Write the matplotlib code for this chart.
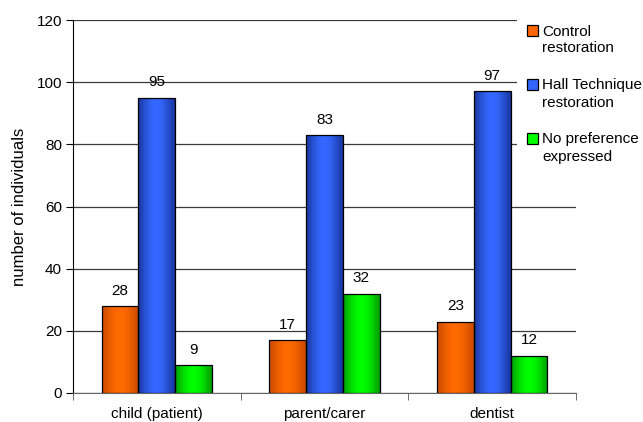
import numpy as np
import matplotlib.pyplot as plt
from matplotlib.patches import Rectangle
from matplotlib.colors import to_rgb

plt.rcParams['font.family'] = ['Liberation Sans', 'DejaVu Sans']

groups = ['child (patient)', 'parent/carer', 'dentist']
series = [('Control', 'restoration'), ('Hall Technique', 'restoration'),
          ('No preference', 'expressed')]
control = [28, 17, 23]
hall = [95, 83, 97]
no_pref = [9, 32, 12]

# (edge shade, centre shade) for each series
shades = [('#c84800', '#ff6a00'), ('#18349a', '#3468ff'), ('#009a00', '#00ff00')]
flat = ['#ff6600', '#3366ff', '#00ff00']

W, H = 643, 422


def gradient_bar(ax, patch, dark, light):
    x0, y0 = patch.get_x(), patch.get_y()
    w, h = patch.get_width(), patch.get_height()
    t = np.linspace(0, 1, 64)
    k = np.sin(np.pi * np.clip(t * 0.95 + 0.03, 0, 1)) ** 1.2
    d, l = np.array(to_rgb(dark)), np.array(to_rgb(light))
    img = d[None, :] + (l - d)[None, :] * k[:, None]
    im = ax.imshow(img[None, :, :], extent=[x0, x0 + w, y0, y0 + h], aspect='auto',
                   interpolation='bilinear', zorder=2.9)
    im.set_clip_path(patch)
    patch.set_facecolor('none')


fig = plt.figure(figsize=(W / 100, H / 100), dpi=100)
ax = fig.add_axes([73 / W, 1 - 393 / H, 503 / W, 373 / H])

x = np.arange(len(groups))
w = 0.22
for i, vals in enumerate([control, hall, no_pref]):
    bars = ax.bar(x + (i - 1) * w, vals, w, edgecolor='black', linewidth=0.9, zorder=3)
    for b, v in zip(bars, vals):
        gradient_bar(ax, b, *shades[i])
        ax.annotate(str(v), (b.get_x() + b.get_width() / 2, v), xytext=(0, 6),
                    textcoords='offset points', ha='center', va='bottom', fontsize=11)

ax.set_xlim(-0.5, 2.5)
ax.set_ylim(0, 120)
ax.set_yticks(range(0, 121, 20))
ax.yaxis.grid(True, color='#3a3a3a', linewidth=0.9)
ax.set_axisbelow(True)
ax.set_xticks(x)
ax.set_xticklabels(groups)
ax.set_xticks([-0.5, 0.5, 1.5, 2.5], minor=True)
ax.tick_params(axis='x', which='major', length=0, pad=10, labelsize=11)
ax.tick_params(axis='x', which='minor', length=5, color='#555555')
ax.tick_params(axis='y', length=5, labelsize=11, pad=3)
for s in ['top', 'right']:
    ax.spines[s].set_visible(False)
ax.spines['bottom'].set_color('#666666')
ax.set_ylabel('number of individuals', fontsize=12, labelpad=7)

# legend block on the right, white backing hides the grid under it
fig.patches.append(Rectangle((517 / W, 1 - 175 / H), 126 / W, 160 / H,
                             transform=fig.transFigure, facecolor='white',
                             edgecolor='none', zorder=5))
for i, (first, second) in enumerate(series):
    top = 25 + 54 * i
    fig.patches.append(Rectangle((527 / W, 1 - (top + 11) / H), 11 / W, 11 / H,
                                 transform=fig.transFigure, facecolor=flat[i],
                                 edgecolor='black', linewidth=0.9, zorder=6))
    fig.text(542 / W, 1 - (top + 10.5) / H, first, fontsize=11, va='baseline', zorder=6)
    fig.text(542 / W, 1 - (top + 27.5) / H, second, fontsize=11, va='baseline', zorder=6)

fig.savefig('out.png', dpi=100)
